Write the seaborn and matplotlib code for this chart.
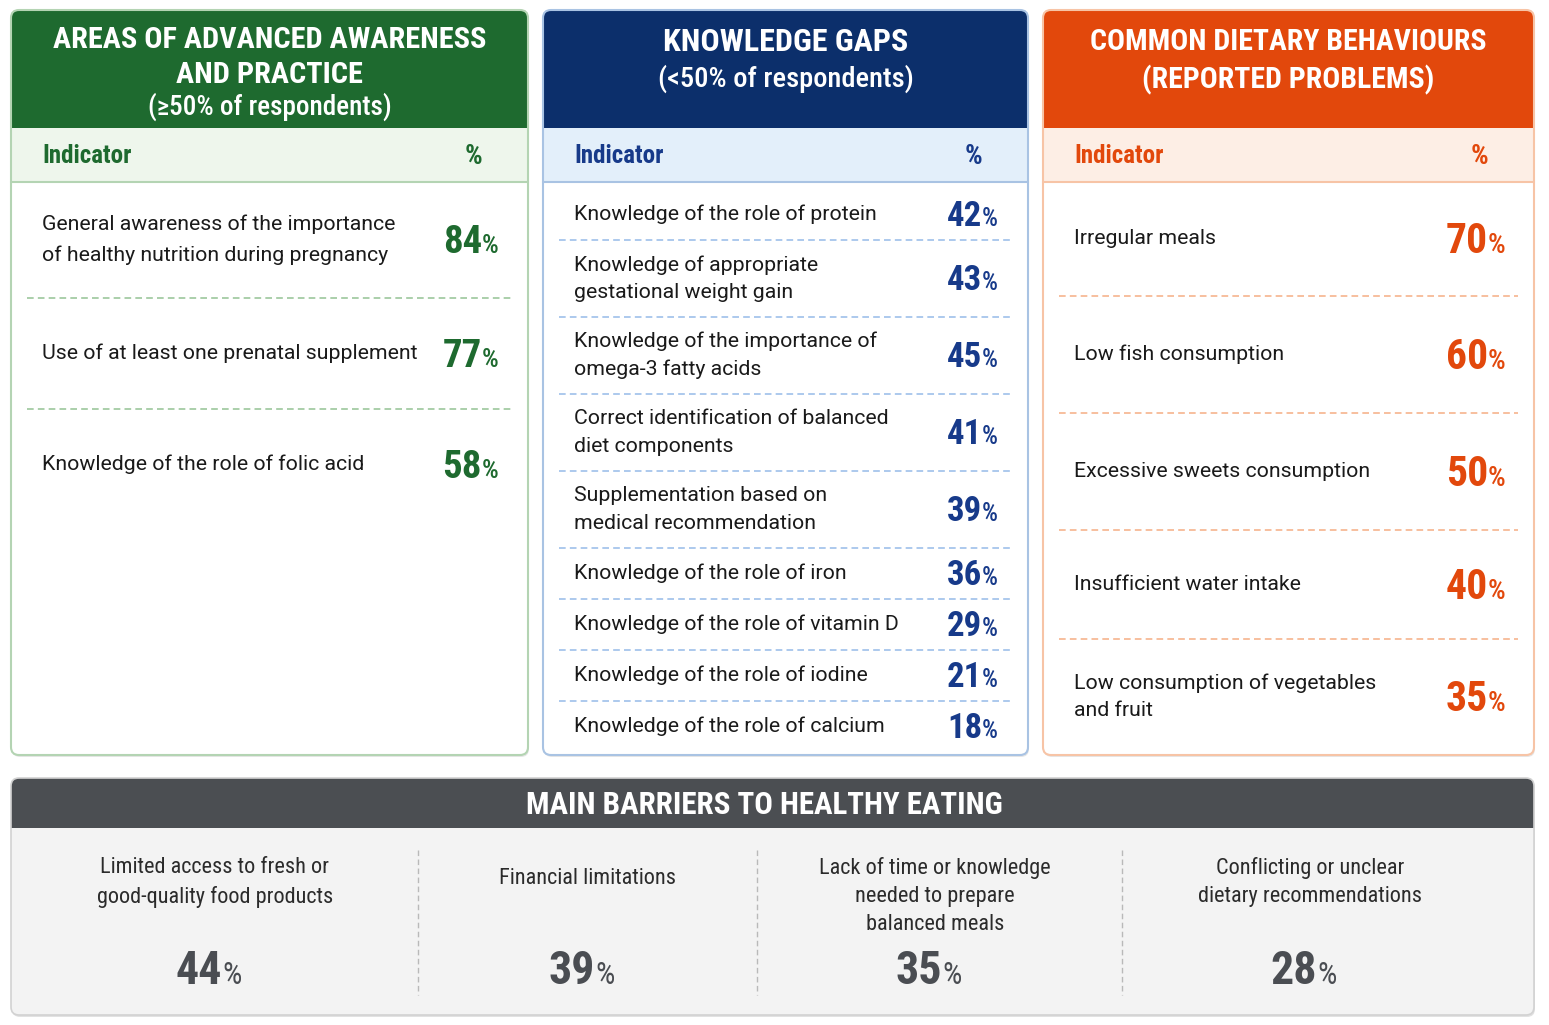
import matplotlib
matplotlib.use("Agg")
import matplotlib.pyplot as plt
import seaborn as sns
from matplotlib import font_manager
from matplotlib.patches import FancyBboxPatch, Rectangle


# ## ---- ## #
# ## Data ## #
# ## ---- ## #

aware_labels = ["General awareness of the importance\nof healthy nutrition during pregnancy",
                "Use of at least one prenatal supplement",
                "Knowledge of the role of folic acid"]
aware_values = [84, 77, 58]

gap_labels = ["Knowledge of the role of protein",
              "Knowledge of appropriate\ngestational weight gain",
              "Knowledge of the importance of\nomega-3 fatty acids",
              "Correct identification of balanced\ndiet components",
              "Supplementation based on\nmedical recommendation",
              "Knowledge of the role of iron",
              "Knowledge of the role of vitamin D",
              "Knowledge of the role of iodine",
              "Knowledge of the role of calcium"]
gap_values = [42, 43, 45, 41, 39, 36, 29, 21, 18]

behav_labels = ["Irregular meals",
                "Low fish consumption",
                "Excessive sweets consumption",
                "Insufficient water intake",
                "Low consumption of vegetables\nand fruit"]
behav_values = [70, 60, 50, 40, 35]

barrier_labels = ["Limited access to fresh or\ngood-quality food products",
                  "Financial limitations",
                  "Lack of time or knowledge\nneeded to prepare\nbalanced meals",
                  "Conflicting or unclear\ndietary recommendations"]
barrier_values = [44, 39, 35, 28]


# ## ----- ## #
# ## Setup ## #
# ## ----- ## #

sns.set_theme(style="white")
installed = {f.name for f in font_manager.fontManager.ttflist}


def pick(cands):
    for c in cands:
        if c in installed:
            return c
    return "DejaVu Sans"


NARROW = pick(["Roboto Condensed", "Liberation Sans Narrow", "Roboto"])
BODY = pick(["Roboto", "Lato", "DejaVu Sans"])
plt.rcParams["font.family"] = [BODY, "DejaVu Sans"]
NF = [NARROW, "DejaVu Sans"]

W, H = 1549, 1025
fig = plt.figure(figsize=(W / 100, H / 100), dpi=100)
ax = fig.add_axes([0, 0, 1, 1])
ax.set_xlim(0, W)
ax.set_ylim(H, 0)
ax.axis("off")


def rbox(x0, y0, x1, y1, fc, ec="none", lw=0, r=8, z=1):
    p = FancyBboxPatch((x0, y0), x1 - x0, y1 - y0,
                       boxstyle=f"round,pad=0,rounding_size={r}",
                       fc=fc, ec=ec, lw=lw, zorder=z)
    ax.add_patch(p)


def draw_value(xp, yc, v, color, big=28, small=19):
    off = big * 0.47
    ax.text(xp, yc + off, f"{v}", ha="right", va="baseline", fontsize=big,
            fontweight="bold", color=color, family=NF, zorder=5)
    ax.text(xp, yc + off, "%", ha="left", va="baseline", fontsize=small,
            fontweight="medium", color=color, family=NF, zorder=5)


def draw_panel(x0, x1, titles, dark, light, border, dash, vcolor,
               labels, values, heights, start, spacing=1.55, big=28, small=19):
    top, hb, sb, bot = 10, 128, 182, 755
    # soft shadow + body
    rbox(x0 + 1, top + 2, x1 + 1, bot + 2, "#e6e6e6", z=0)
    rbox(x0, top, x1, bot, "white", z=1)
    # header
    rbox(x0, top, x1, hb, dark, z=2)
    ax.add_patch(Rectangle((x0, hb - 12), x1 - x0, 12, fc=dark, ec="none", zorder=2))
    ax.add_patch(Rectangle((x0, hb), x1 - x0, sb - hb, fc=light, ec="none", zorder=2))
    ax.plot([x0, x1], [sb, sb], color=border, lw=1.5, zorder=3)
    rbox(x0, top, x1, bot, "none", ec=border, lw=1.5, z=4)
    for txt, y, size, weight in titles:
        ax.text((x0 + x1) / 2, y, txt, ha="center", va="center", fontsize=size,
                fontweight=weight, color="white", family=NF, zorder=5)
    ax.text(x0 + 31, 156, "Indicator", ha="left", va="center", fontsize=18,
            fontweight="bold", color=vcolor, family=NF, zorder=5)
    ax.text(x1 - 54, 157, "%", ha="center", va="center", fontsize=20,
            fontweight="bold", color=vcolor, family=NF, zorder=5)
    y = start
    for i, (lab, val, h) in enumerate(zip(labels, values, heights)):
        yc = y + h / 2
        ax.text(x0 + 31, yc, lab, ha="left", va="center", fontsize=15.3,
                color="#1a1a1a", linespacing=spacing, zorder=5)
        draw_value(x1 - 46, yc, val, vcolor, big, small)
        y += h
        if i < len(labels) - 1:
            ax.plot([x0 + 16, x1 - 16], [y, y], color=dash, lw=1.2,
                    ls=(0, (4, 2.5)), zorder=3)


# ## ------ ## #
# ## Panels ## #
# ## ------ ## #

draw_panel(11, 528,
           [("AREAS OF ADVANCED AWARENESS", 40, 21.8, "bold"),
            ("AND PRACTICE", 75, 21.8, "bold"),
            ("(\u226550% of respondents)", 107, 19.5, "medium")],
           "#1e6a2f", "#eef6ec", "#b4d4b3", "#9cc79c", "#1e6a2f",
           aware_labels, aware_values, [116, 111, 111], 182, spacing=1.72)

gap_heights = [51 + 26 * lab.count("\n") for lab in gap_labels]
draw_panel(543, 1028,
           [("KNOWLEDGE GAPS", 42, 23, "bold"),
            ("(<50% of respondents)", 79, 20.5, "medium")],
           "#0c2f6b", "#e3effa", "#a9c3e3", "#9ec0ea", "#173a8a",
           gap_labels, gap_values, gap_heights, 189, big=25, small=18)

draw_panel(1043, 1534,
           [("COMMON DIETARY BEHAVIOURS", 42, 21.4, "bold"),
            ("(REPORTED PROBLEMS)", 80, 21.4, "bold")],
           "#e2480c", "#fdeee5", "#f7c4a6", "#f6b48e", "#e2480c",
           behav_labels, behav_values, [115, 117, 117, 109, 116], 181, big=30, small=20)

# ## -------- ## #
# ## Barriers ## #
# ## -------- ## #

bx0, bx1, btop, bhb, bbot = 11, 1534, 778, 828, 1015
rbox(bx0 + 1, btop + 2, bx1 + 1, bbot + 2, "#e2e2e2", z=0)
rbox(bx0, btop, bx1, bbot, "#f3f3f3", z=1)
rbox(bx0, btop, bx1, bhb, "#4b4e52", z=2)
ax.add_patch(Rectangle((bx0, bhb - 12), bx1 - bx0, 12, fc="#4b4e52", ec="none", zorder=2))
rbox(bx0, btop, bx1, bbot, "none", ec="#d2d2d2", lw=1.2, z=4)
ax.text(764, 805, "MAIN BARRIERS TO HEALTHY EATING", ha="center",
        va="center", fontsize=22.3, fontweight="bold", color="white", family=NF, zorder=5)

col_centers = [215, 588, 935, 1310]
dividers = [418, 757, 1122]
for xd in dividers:
    ax.plot([xd, xd], [850, 995], color="#b9b9b9", lw=1, ls=(0, (4, 2.5)), zorder=3)

for xc, lab, val in zip(col_centers, barrier_labels, barrier_values):
    n = lab.count("\n") + 1
    if n == 1:
        ax.text(xc, 879, lab, ha="center", va="center", fontsize=16, color="#2b2b2b",
                family=NF, zorder=5)
    else:
        ax.text(xc, 857, lab, ha="center", va="top", fontsize=16, color="#2b2b2b",
                family=NF, linespacing=1.45, zorder=5)
    ax.text(xc + 7, 984, f"{val}", ha="right", va="baseline", fontsize=33,
            fontweight="bold", color="#4a4d52", family=NF, zorder=5)
    ax.text(xc + 7, 984, "%", ha="left", va="baseline", fontsize=22,
            color="#4a4d52", family=NF, zorder=5)

fig.savefig("out.png", dpi=100, facecolor="white")
